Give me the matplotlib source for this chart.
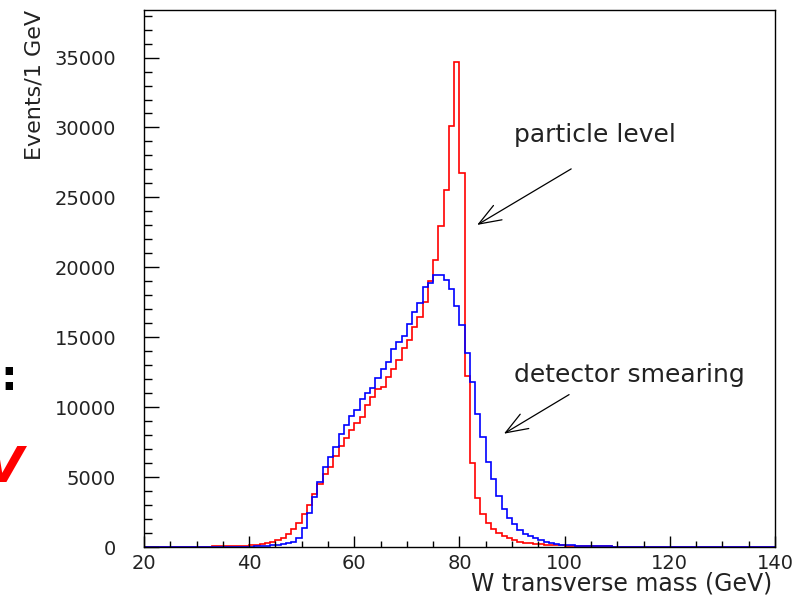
import numpy as np
import matplotlib
matplotlib.use('Agg')
import matplotlib.pyplot as plt
from matplotlib.ticker import MultipleLocator

# bins: 1 GeV wide, from 20 to 140 GeV
bin_lo = 20
bin_hi = 140

# particle level (red)
red_counts = [
    3, 4, 5, 6, 8, 10, 12, 15,
    18, 22, 26, 30, 35, 40, 46, 53,
    60, 70, 82, 98, 120, 160, 220, 290,
    390, 480, 650, 930, 1300, 1690, 2380, 3020,
    3760, 4480, 5210, 5740, 6500, 7200, 7800, 8380,
    8870, 9310, 10140, 10740, 11330, 11450, 12170, 12760,
    13360, 14240, 14830, 15740, 16450, 17520, 19020, 20500,
    22950, 25500, 30120, 34700, 26750, 12210, 6030, 3480,
    2330, 1690, 1310, 976, 800, 620, 500, 390,
    310, 260, 215, 190, 165, 145, 125, 110,
    100, 90, 80, 72, 64, 57, 50, 45,
    40, 36, 32, 29, 26, 23, 21, 19,
    17, 15, 14, 12, 11, 10, 9, 8,
    7, 7, 6, 6, 5, 5, 4, 4,
    4, 3, 3, 3, 2, 2, 2, 2,
]

# detector smearing (blue)
blue_counts = [
    1, 1, 2, 2, 3, 3, 4, 4,
    5, 6, 7, 8, 9, 10, 12, 13,
    15, 18, 22, 27, 35, 45, 60, 80,
    110, 160, 210, 270, 380, 620, 1330, 2400,
    3600, 4620, 5740, 6450, 7170, 8080, 8740, 9380,
    9820, 10570, 10980, 11400, 12100, 12760, 13240, 14190,
    14670, 15100, 15930, 16810, 17480, 18600, 18900, 19430,
    19430, 19070, 18450, 17210, 15860, 13900, 11770, 9500,
    7880, 6095, 4860, 3650, 2740, 2100, 1630, 1240,
    950, 760, 610, 470, 370, 300, 230, 170,
    135, 110, 95, 80, 70, 60, 52, 45,
    40, 35, 31, 28, 25, 22, 20, 18,
    16, 14, 13, 12, 11, 10, 9, 8,
    7, 7, 6, 6, 5, 5, 4, 4,
    4, 3, 3, 3, 2, 2, 2, 2,
]

edges = np.arange(bin_lo, bin_hi + 1, 1)

fig = plt.figure(figsize=(8.07, 5.96), dpi=100)
ax = fig.add_axes([0.1784, 0.0822, 0.7819, 0.9010])

# histograms
ax.stairs(red_counts, edges, color='#ff0000', linewidth=1.2)
ax.stairs(blue_counts, edges, color='#0000ff', linewidth=1.2)

ax.set_xlim(bin_lo, bin_hi)
ax.set_ylim(0, 38400)

# PAW style ticks, pointing inwards
ax.xaxis.set_major_locator(MultipleLocator(20))
ax.xaxis.set_minor_locator(MultipleLocator(5))
ax.yaxis.set_major_locator(MultipleLocator(5000))
ax.yaxis.set_minor_locator(MultipleLocator(1000))
ax.tick_params(axis='x', which='major', direction='in', length=8, width=1.0,
               labelsize=14, pad=5, top=False)
ax.tick_params(axis='x', which='minor', direction='in', length=4, width=1.0, top=False)
ax.tick_params(axis='y', which='major', direction='in', length=11, width=1.0,
               labelsize=14, pad=20, right=False)
ax.tick_params(axis='y', which='minor', direction='in', length=6, width=1.0, right=False)
for lab in ax.get_xticklabels() + ax.get_yticklabels():
    lab.set_color('#222222')

for sp in ax.spines.values():
    sp.set_linewidth(1.0)

# axis titles
ax.set_xlabel('W transverse mass (GeV)', fontsize=17, color='#222222')
ax.xaxis.set_label_coords(0.995, -0.081)
ax.xaxis.label.set_horizontalalignment('right')
ax.xaxis.label.set_verticalalignment('baseline')
ax.set_ylabel('Events/1 GeV', fontsize=16, color='#222222')
ax.yaxis.set_label_coords(-0.157, 1.0)
ax.yaxis.label.set_horizontalalignment('right')

# annotations
arrow_style = '->,head_length=1.6,head_width=0.6'
ax.annotate('', xy=(82.9, 22930), xytext=(101.7, 27140),
            arrowprops=dict(arrowstyle=arrow_style, color='black', linewidth=0.9))
ax.text(90.3, 29430, 'particle level', fontsize=18, color='#222222', va='center')
ax.annotate('', xy=(88.0, 8000), xytext=(101.3, 11000),
            arrowprops=dict(arrowstyle=arrow_style, color='black', linewidth=0.9))
ax.text(90.3, 12290, 'detector smearing', fontsize=18, color='#222222', va='center')

# left-over pieces of the slide on the left edge
fig.text(0.011, 0.365, ':', fontsize=30, fontweight='bold', color='black',
         ha='center', va='center')
fig.text(0.028, 0.215, 'V', fontsize=36, fontweight='bold', fontstyle='italic',
         color='#ff0000', ha='right', va='center')

fig.savefig('out.png', dpi=100)
